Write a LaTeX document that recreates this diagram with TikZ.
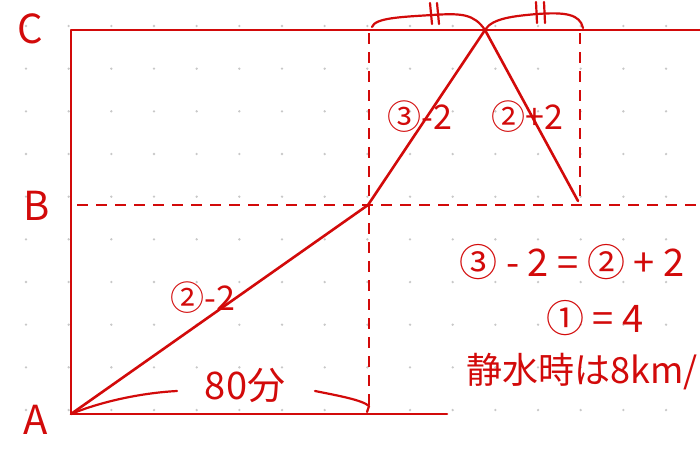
\documentclass[tikz,border=0pt]{standalone}
\usepackage{fontspec}
\setmainfont{Noto Sans CJK JP}
\definecolor{hRed} {HTML}{D20A0A}
\definecolor{hDot} {HTML}{C8C8C8}

\begin{document}
\begin{tikzpicture}[
  x=1pt, y=-1pt,
  pen/.style={draw=hRed, line width=2.6pt, line cap=round, line join=round},
  dsh/.style={draw=hRed, line width=2.6pt, dash pattern=on 11pt off 8pt},
  hand/.style={draw=hRed, line width=2.2pt, line cap=round, line join=round},
  ink/.style={text=hRed, inner sep=0pt, font=\fontsize{34}{36}\selectfont},
  big/.style={text=hRed, inner sep=0pt, font=\fontsize{40}{42}\selectfont},
]
\useasboundingbox (0,0) rectangle (700,450);

% ============================================================ dot grid
\foreach \i in {0,...,15}
  \foreach \j in {0,...,10}
    \fill[hDot] (26+42.67*\i,26+42.67*\j) circle (1.3pt);

% ============================================================ points
\coordinate (A)  at (71,414);
\coordinate (Cl) at (71,30);
\coordinate (Cr) at (710,30);
\coordinate (Ae) at (447,414);
\coordinate (Bl) at (77,205);
\coordinate (Br) at (710,205);
\coordinate (P)  at (368,205);
\coordinate (Q)  at (485,30);
\coordinate (R)  at (578,201);
\coordinate (Pt) at (369,33);
\coordinate (Pb) at (369,408);
\coordinate (St) at (580,33);
\coordinate (Sb) at (580,205);

% ---- axes
\draw[pen] (Ae) -- (A) -- (Cl) -- (Cr);
\draw[dsh] (Bl) -- (Br);
\draw[dsh] (Pt) -- (Pb);
\draw[dsh] (St) -- (Sb);

% ---- graph
\draw[pen] (A) -- (P) -- (Q) -- (R);

% ---- braces
\draw[hand] (372,27) .. controls (375,18) and (400,17) .. (432,15)
  .. controls (462,13) and (474,14) .. (Q);
\draw[hand] (Q) .. controls (492,18) and (515,16) .. (537,14)
  .. controls (565,12) and (580,14) .. (583,28);
\draw[hand] (430,3) -- (432,24);
\draw[hand] (437,3) -- (439,24);
\draw[hand] (536,2) -- (537,23);
\draw[hand] (544,2) -- (545,23);
\draw[hand] (A) .. controls (100,402) and (140,393) .. (177,391);
\draw[hand] (315,391) .. controls (340,396) and (362,400) .. (369,406)
  -- (367,412);

% ============================================================ labels
\node[big] (lC) at (30,29)  {C};
\node[big] (lB) at (37,206) {B};
\node[big] (lA) at (36,420) {A};

\node[ink] (up) at (420,117) {③-2};
\node[ink] (dn) at (527,117) {②+2};
\node[ink] (ab) at (203,298) {②-2};
\node[ink, font=\fontsize{38}{40}\selectfont] (tm) at (245,385) {80分};

% ---- notes
\node[ink, font=\fontsize{38}{40}\selectfont] (eq1) at (572,262) {③ - 2 = ② + 2};
\node[ink, font=\fontsize{38}{40}\selectfont] (eq2) at (595,318) {① = 4};
\node[ink, anchor=west, font=\fontsize{36}{38}\selectfont] (eq3) at (466,372) {静水時は8km/};

\end{tikzpicture}
\end{document}
